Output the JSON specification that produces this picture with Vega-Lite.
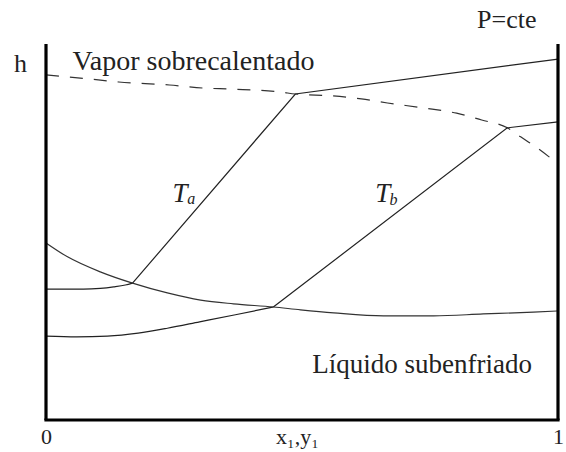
{
  "$schema": "https://vega.github.io/schema/vega-lite/v6.json",
  "width": 512,
  "height": 376,
  "autosize": {"type": "none"},
  "padding": {"left": 46, "top": 44, "right": 8, "bottom": 32},
  "background": "white",
  "config": {
    "view": {"stroke": null}
  },
  "datasets": {
    "vapor": [
      {"x": 0.0, "h": 91.8}, {"x": 0.077, "h": 90.8}, {"x": 0.142, "h": 89.9},
      {"x": 0.241, "h": 89.1}, {"x": 0.306, "h": 88.3}, {"x": 0.362, "h": 88.0},
      {"x": 0.46, "h": 87.2}, {"x": 0.487, "h": 86.7}, {"x": 0.56, "h": 86.2},
      {"x": 0.616, "h": 85.4}, {"x": 0.667, "h": 84.3}, {"x": 0.737, "h": 83.0},
      {"x": 0.802, "h": 81.6}, {"x": 0.851, "h": 79.8}, {"x": 0.901, "h": 77.7},
      {"x": 0.927, "h": 75.3}, {"x": 0.96, "h": 72.3}, {"x": 1.0, "h": 68.1}
    ],
    "liquid": [
      {"x": 0.0, "h": 47.1}, {"x": 0.042, "h": 43.4}, {"x": 0.106, "h": 39.4},
      {"x": 0.169, "h": 36.4}, {"x": 0.237, "h": 33.8}, {"x": 0.302, "h": 31.9},
      {"x": 0.366, "h": 30.9}, {"x": 0.444, "h": 30.05}, {"x": 0.497, "h": 29.3},
      {"x": 0.562, "h": 28.5}, {"x": 0.659, "h": 27.7}, {"x": 0.757, "h": 27.7},
      {"x": 0.854, "h": 28.2}, {"x": 0.952, "h": 28.7}, {"x": 1.0, "h": 29.0}
    ],
    "isothermLow": [
      {"iso": "Ta", "x": 0.0, "h": 34.8}, {"iso": "Ta", "x": 0.073, "h": 34.8},
      {"iso": "Ta", "x": 0.106, "h": 35.0}, {"iso": "Ta", "x": 0.132, "h": 35.4},
      {"iso": "Ta", "x": 0.155, "h": 35.9}, {"iso": "Ta", "x": 0.169, "h": 36.4},
      {"iso": "Tb", "x": 0.0, "h": 22.3}, {"iso": "Tb", "x": 0.06, "h": 22.1},
      {"iso": "Tb", "x": 0.12, "h": 22.3}, {"iso": "Tb", "x": 0.18, "h": 23.1},
      {"iso": "Tb", "x": 0.237, "h": 24.4}, {"iso": "Tb", "x": 0.3, "h": 26.1},
      {"iso": "Tb", "x": 0.37, "h": 28.0}, {"iso": "Tb", "x": 0.444, "h": 30.05}
    ],
    "isothermHigh": [
      {"iso": "Ta", "x": 0.169, "h": 36.4}, {"iso": "Ta", "x": 0.487, "h": 86.7},
      {"iso": "Ta", "x": 1.0, "h": 96.0},
      {"iso": "Tb", "x": 0.444, "h": 30.05}, {"iso": "Tb", "x": 0.901, "h": 77.7},
      {"iso": "Tb", "x": 1.0, "h": 79.3}
    ]
  },
  "layer": [
    {
      "data": {"name": "vapor"},
      "mark": {"type": "line", "interpolate": "monotone", "color": "#333", "strokeWidth": 1.2, "strokeDash": [13, 11]},
      "encoding": {
        "x": {"field": "x", "type": "quantitative", "scale": {"domain": [0, 1], "nice": false, "zero": false},
              "axis": {"values": [0, 0.49, 1], "labelExpr": "datum.value == 0 ? '0' : datum.value == 1 ? '1' : 'x₁,y₁'",
                       "domain": false, "ticks": false, "grid": false, "title": null, "labelFont": "Liberation Serif",
                       "labelFontSize": 22, "labelColor": "#222", "labelPadding": 6, "labelFlush": false, "labelOverlap": false}},
        "y": {"field": "h", "type": "quantitative", "scale": {"domain": [0, 100], "nice": false, "zero": false}, "axis": null}
      }
    },
    {
      "data": {"name": "liquid"},
      "mark": {"type": "line", "interpolate": "monotone", "color": "#333", "strokeWidth": 1.2},
      "encoding": {
        "x": {"field": "x", "type": "quantitative", "scale": {"domain": [0, 1], "nice": false, "zero": false}},
        "y": {"field": "h", "type": "quantitative", "scale": {"domain": [0, 100], "nice": false, "zero": false}, "axis": null}
      }
    },
    {
      "data": {"name": "isothermLow"},
      "mark": {"type": "line", "interpolate": "monotone", "color": "#222", "strokeWidth": 1.2},
      "encoding": {
        "detail": {"field": "iso"},
        "x": {"field": "x", "type": "quantitative", "scale": {"domain": [0, 1], "nice": false, "zero": false}},
        "y": {"field": "h", "type": "quantitative", "scale": {"domain": [0, 100], "nice": false, "zero": false}, "axis": null}
      }
    },
    {
      "data": {"name": "isothermHigh"},
      "mark": {"type": "line", "interpolate": "linear", "color": "#222", "strokeWidth": 1.2},
      "encoding": {
        "detail": {"field": "iso"},
        "x": {"field": "x", "type": "quantitative", "scale": {"domain": [0, 1], "nice": false, "zero": false}},
        "y": {"field": "h", "type": "quantitative", "scale": {"domain": [0, 100], "nice": false, "zero": false}, "axis": null}
      }
    },
    {
      "data": {"values": [{"x": 0}, {"x": 1}]},
      "mark": {"type": "rule", "color": "#000", "strokeWidth": 3.2},
      "encoding": {
        "x": {"field": "x", "type": "quantitative", "scale": {"domain": [0, 1], "nice": false, "zero": false}}
      }
    },
    {
      "data": {"values": [{"h": 0}]},
      "mark": {"type": "rule", "color": "#000", "strokeWidth": 3.2, "strokeCap": "square"},
      "encoding": {
        "y": {"field": "h", "type": "quantitative", "scale": {"domain": [0, 100], "nice": false, "zero": false}, "axis": null}
      }
    },
    {
      "data": {"values": [
        {"label": "Vapor sobrecalentado", "x": 0.052, "h": 93.1}
      ]},
      "mark": {"type": "text", "align": "left", "baseline": "alphabetic", "fontSize": 28, "font": "Liberation Serif", "color": "#222"},
      "encoding": {
        "text": {"field": "label"},
        "x": {"field": "x", "type": "quantitative", "scale": {"domain": [0, 1], "nice": false, "zero": false}},
        "y": {"field": "h", "type": "quantitative", "scale": {"domain": [0, 100], "nice": false, "zero": false}, "axis": null}
      }
    },
    {
      "data": {"values": [
        {"label": "Líquido subenfriado", "x": 0.52, "h": 12.5}
      ]},
      "mark": {"type": "text", "align": "left", "baseline": "alphabetic", "fontSize": 27, "font": "Liberation Serif", "color": "#222"},
      "encoding": {
        "text": {"field": "label"},
        "x": {"field": "x", "type": "quantitative", "scale": {"domain": [0, 1], "nice": false, "zero": false}},
        "y": {"field": "h", "type": "quantitative", "scale": {"domain": [0, 100], "nice": false, "zero": false}, "axis": null}
      }
    },
    {
      "data": {"values": [
        {"label": "h", "x": -0.05, "h": 92.5},
        {"label": "P=cte", "x": 0.9, "h": 104.2}
      ]},
      "mark": {"type": "text", "align": "center", "baseline": "alphabetic", "fontSize": 26, "font": "Liberation Serif", "color": "#222"},
      "encoding": {
        "text": {"field": "label"},
        "x": {"field": "x", "type": "quantitative", "scale": {"domain": [0, 1], "nice": false, "zero": false}},
        "y": {"field": "h", "type": "quantitative", "scale": {"domain": [0, 100], "nice": false, "zero": false}, "axis": null}
      }
    },
    {
      "data": {"values": [
        {"label": "T", "x": 0.247, "h": 58.0},
        {"label": "T", "x": 0.643, "h": 58.0}
      ]},
      "mark": {"type": "text", "align": "left", "baseline": "alphabetic", "fontSize": 27, "fontStyle": "italic", "font": "Liberation Serif", "color": "#222"},
      "encoding": {
        "text": {"field": "label"},
        "x": {"field": "x", "type": "quantitative", "scale": {"domain": [0, 1], "nice": false, "zero": false}},
        "y": {"field": "h", "type": "quantitative", "scale": {"domain": [0, 100], "nice": false, "zero": false}, "axis": null}
      }
    },
    {
      "data": {"values": [
        {"label": "a", "x": 0.276, "h": 57.5},
        {"label": "b", "x": 0.671, "h": 57.2}
      ]},
      "mark": {"type": "text", "align": "left", "baseline": "alphabetic", "fontSize": 16, "fontStyle": "italic", "font": "Liberation Serif", "color": "#222"},
      "encoding": {
        "text": {"field": "label"},
        "x": {"field": "x", "type": "quantitative", "scale": {"domain": [0, 1], "nice": false, "zero": false}},
        "y": {"field": "h", "type": "quantitative", "scale": {"domain": [0, 100], "nice": false, "zero": false}, "axis": null}
      }
    }
  ]
}
